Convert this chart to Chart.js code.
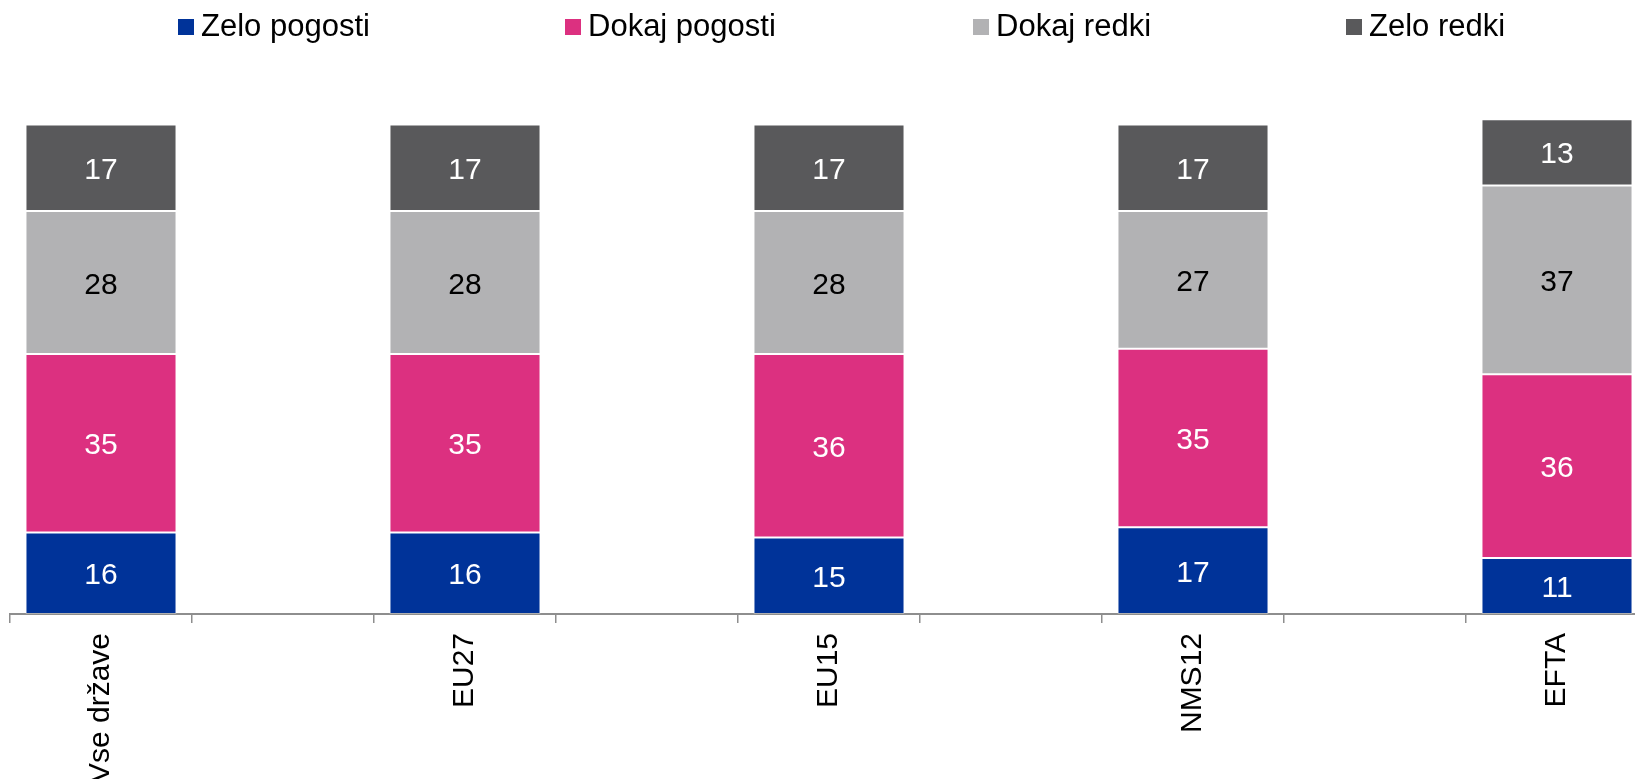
<!DOCTYPE html>
<html>
<head>
<meta charset="utf-8">
<script src="https://cdn.jsdelivr.net/npm/chart.js@4/dist/chart.umd.min.js"></script>
<style>
  html, body { margin: 0; padding: 0; background: #fff; overflow: hidden; }
  #wrap { position: relative; width: 1650px; height: 779px; }
  #legend { position: absolute; left: 0; top: 0; width: 1635px; height: 60px; }
  .item { position: absolute; top: 8px; height: 35px; display: flex; align-items: flex-start;
          white-space: nowrap;
          font-family: "Liberation Sans", Arial, sans-serif; font-size: 31px; line-height: 35px; color: #000; }
  .box { display: inline-block; width: 16px; height: 16px; margin-top: 11px; margin-right: 7px; }
</style>
</head>
<body>
<div id="wrap">
  <canvas id="c" width="1650" height="779"></canvas>
  <div id="legend"></div>
</div>
<script>
// ---- data ----
const categories = ['Vse države', 'EU27', 'EU15', 'NMS12', 'EFTA'];
const seriesNames = ['Zelo pogosti', 'Dokaj pogosti', 'Dokaj redki', 'Zelo redki'];
const zeloPogosti = [16, 16, 15, 17, 11];
const dokajPogosti = [35, 35, 36, 35, 36];
const dokajRedki = [28, 28, 28, 27, 37];
const zeloRedki = [17, 17, 17, 17, 13];

// ---- styles ----
const colors = ['#003399', '#DC3080', '#B2B2B4', '#59595B'];
const labelColors = ['#ffffff', '#ffffff', '#000000', '#ffffff'];
const legendLeft = [178, 565, 973, 1346];
const FONT = '"Liberation Sans", Arial, sans-serif';

// categories are separated by empty slots in the original chart
function spread(arr, filler) {
  const out = [];
  arr.forEach((v, i) => { if (i > 0) out.push(filler); out.push(v); });
  return out;
}
const slotLabels = spread(categories, '');
const seriesValues = [zeloPogosti, dokajPogosti, dokajRedki, zeloRedki];

const datasets = seriesValues.map((vals, i) => ({
  label: seriesNames[i],
  data: spread(vals, null),
  backgroundColor: colors[i],
  borderColor: 'rgba(255,255,255,0.3)',
  borderWidth: 1,
  borderSkipped: false,
  categoryPercentage: 1.0,
  barPercentage: 0.83
}));

// HTML legend
const legend = document.getElementById('legend');
seriesNames.forEach((name, i) => {
  const it = document.createElement('div');
  it.className = 'item';
  it.style.left = legendLeft[i] + 'px';
  const b = document.createElement('span');
  b.className = 'box';
  b.style.background = colors[i];
  const t = document.createElement('span');
  t.textContent = name;
  it.appendChild(b); it.appendChild(t);
  legend.appendChild(it);
});

const valueLabels = {
  id: 'valueLabels',
  afterDatasetsDraw(chart) {
    const ctx = chart.ctx;
    ctx.save();
    ctx.font = '30px ' + FONT;
    ctx.textAlign = 'center';
    ctx.textBaseline = 'alphabetic';
    chart.data.datasets.forEach((ds, i) => {
      const meta = chart.getDatasetMeta(i);
      meta.data.forEach((bar, j) => {
        const v = ds.data[j];
        if (v === null || v === undefined) return;
        const p = bar.getProps(['x', 'y', 'base'], true);
        ctx.fillStyle = labelColors[i];
        ctx.fillText(String(v), p.x, (p.y + p.base) / 2 + 11);
      });
    });
    ctx.restore();
  }
};

new Chart(document.getElementById('c'), {
  type: 'bar',
  data: { labels: slotLabels, datasets },
  options: {
    responsive: false,
    animation: false,
    devicePixelRatio: 1,
    layout: { padding: { left: 10, right: 2, top: 104, bottom: 0 } },
    plugins: { legend: { display: false }, tooltip: { enabled: false } },
    scales: {
      x: {
        stacked: true,
        offset: true,
        grid: { display: true, offset: true, drawOnChartArea: false, drawTicks: true,
                tickLength: 9, color: '#8e8e8e', lineWidth: 1.5 },
        border: { display: true, color: '#8e8e8e', width: 2 },
        ticks: { autoSkip: false, minRotation: 90, maxRotation: 90, padding: 10,
                 color: '#000', font: { family: FONT, size: 30 } },
        afterFit: (scale) => { scale.height = 165; }
      },
      y: {
        stacked: true,
        display: false,
        min: 0,
        max: 100
      }
    }
  },
  plugins: [valueLabels]
});
</script>
</body>
</html>
